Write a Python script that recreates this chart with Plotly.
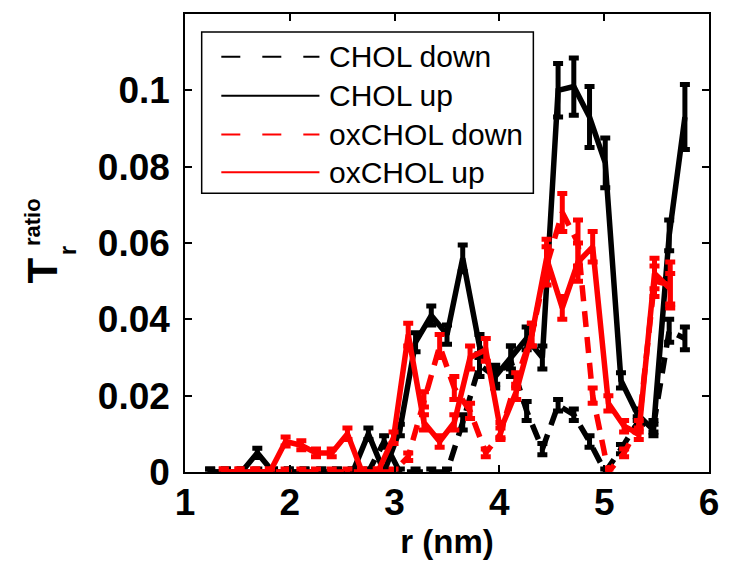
import plotly.graph_objects as go

# Radial bins (nm) for the two molecule types
r_chol = [1.24, 1.39, 1.54, 1.69, 1.84, 1.99, 2.14, 2.30, 2.45, 2.60, 2.75, 2.90, 3.05, 3.20,
          3.35, 3.50, 3.65, 3.81, 3.96, 4.11, 4.26, 4.41, 4.56, 4.71, 4.86, 5.01, 5.16, 5.32,
          5.47, 5.62, 5.77]
r_ox = [1.37, 1.52, 1.67, 1.81, 1.96, 2.11, 2.25, 2.40, 2.55, 2.69, 2.84, 2.99, 3.13, 3.28,
        3.43, 3.57, 3.72, 3.87, 4.01, 4.16, 4.31, 4.45, 4.60, 4.75, 4.89, 5.04, 5.19, 5.33,
        5.48, 5.63]

chol_down = [0, 0, 0, 0, 0, 0, 0, 0, 0, 0, 0, 0.008, 0, 0, 0, 0, 0.013, 0.028, 0.025, 0.029,
             0.016, 0.006, 0.0175, 0.015, 0.008, 0, 0.006, 0.013, 0.012, 0.037, 0.035]
chol_down_err = [0.0008] * 11 + [0.0015, 0.0008, 0.0008, 0.0008, 0.0008, 0.002, 0.003, 0.003,
                                 0.004, 0.0025, 0.0015, 0.0015, 0.0015, 0.0015, 0.0008, 0.0012,
                                 0.0015, 0.0015, 0.003, 0.003]

chol_up = [0, 0, 0, 0.005, 0, 0, 0, 0, 0, 0, 0.010, 0, 0.011, 0.034, 0.041, 0.036, 0.056,
           0.033, 0.025, 0.030, 0.035, 0.030, 0.100, 0.101, 0.093, 0.081, 0.024, 0.015, 0.011,
           0.062, 0.093]
chol_up_err = [0.0008, 0.0008, 0.0008, 0.0012, 0.0008, 0.0008, 0.0008, 0.0008, 0.0008, 0.0008,
               0.0015, 0.0008, 0.0015, 0.0025, 0.0025, 0.0025, 0.0035, 0.003, 0.002, 0.003,
               0.003, 0.003, 0.007, 0.0075, 0.008, 0.0065, 0.002, 0.0015, 0.0015, 0.004, 0.0085]

oxchol_down = [0] * 12 + [0.004, 0.019, 0.033, 0.022, 0.016, 0.005, 0.010, 0.024, 0.036, 0.054,
                          0.068, 0.060, 0.020, 0, 0.005, 0.012, 0.050, 0.049]
oxchol_down_err = [0.0008] * 12 + [0.001, 0.002, 0.003, 0.003, 0.002, 0.001, 0.0015, 0.002,
                                   0.003, 0.005, 0.005, 0.006, 0.002, 0.0008, 0.001, 0.0015,
                                   0.004, 0.006]

oxchol_up = [0, 0, 0, 0, 0.008, 0.007, 0.005, 0.005, 0.010, 0, 0, 0.009, 0.036, 0.013, 0.008,
             0.013, 0.030, 0.032, 0.011, 0.021, 0.036, 0.056, 0.043, 0.055, 0.059, 0.018, 0.012,
             0.010, 0.052, 0.048]
oxchol_up_err = [0.0008] * 4 + [0.0012, 0.0012, 0.001, 0.001, 0.0015, 0.0008, 0.0008, 0.0015,
                                0.003, 0.002, 0.0015, 0.002, 0.003, 0.003, 0.002, 0.002, 0.003,
                                0.005, 0.003, 0.005, 0.004, 0.002, 0.0015, 0.0015, 0.004, 0.004]

series_names = ["CHOL down", "CHOL up", "oxCHOL down", "oxCHOL up"]
series_x = [r_chol, r_chol, r_ox, r_ox]
series_y = [chol_down, chol_up, oxchol_down, oxchol_up]
series_err = [chol_down_err, chol_up_err, oxchol_down_err, oxchol_up_err]
series_color = ["black", "black", "#ff0000", "#ff0000"]
series_dash = ["16px,10px", "solid", "16px,10px", "solid"]

x_ticks = [1, 2, 3, 4, 5, 6]
y_ticks = [0, 0.02, 0.04, 0.06, 0.08, 0.1]
y_ticktext = ["0", "0.02", "0.04", "0.06", "0.08", "0.1"]

FONT = "Liberation Sans, Arial, Helvetica, sans-serif"

fig = go.Figure()
for name, xs, ys, es, col, dash in zip(series_names, series_x, series_y, series_err,
                                       series_color, series_dash):
    fig.add_trace(go.Scatter(
        x=xs, y=ys, mode="lines", name=name, showlegend=False,
        line=dict(color=col, width=5.5, dash=dash),
        error_y=dict(type="data", array=es, visible=True, color=col,
                     thickness=5, width=5),
    ))

# Legend box drawn in paper coordinates
L, R, T, B = 185, 719, 12, 472
W, H = R - L, B - T


def px(x):
    return (x - L) / W


def py(y):
    return (B - y) / H


shapes = [dict(type="rect", xref="paper", yref="paper",
               x0=px(202), x1=px(540), y0=py(192), y1=py(30),
               line=dict(color="black", width=1.5), fillcolor="white", layer="above")]
annotations = []
legend_rows = [55, 94, 133, 171]
legend_dash = ["19px,22px", "solid", "19px,22px", "solid"]
for name, col, dash, yy in zip(series_names, series_color, legend_dash, legend_rows):
    shapes.append(dict(type="line", xref="paper", yref="paper",
                       x0=px(222), x1=px(322), y0=py(yy), y1=py(yy),
                       line=dict(color=col, width=2, dash=dash), layer="above"))
    annotations.append(dict(xref="paper", yref="paper", x=px(330), y=py(yy),
                            text=name, showarrow=False, xanchor="left", yanchor="middle",
                            font=dict(family=FONT, size=30, color="black")))

# Y-axis label: T with stacked sub/superscript
annotations += [
    dict(xref="paper", yref="paper", x=px(40), y=py(270), text="T", textangle=-90,
         showarrow=False, xanchor="center", yanchor="middle",
         font=dict(family=FONT, size=42, color="black", weight="bold")),
    dict(xref="paper", yref="paper", x=px(29), y=py(221), text="ratio", textangle=-90,
         showarrow=False, xanchor="center", yanchor="middle",
         font=dict(family=FONT, size=22, color="black", weight="bold")),
    dict(xref="paper", yref="paper", x=px(66), y=py(250), text="r", textangle=-90,
         showarrow=False, xanchor="center", yanchor="middle",
         font=dict(family=FONT, size=24, color="black", weight="bold")),
]

axis_common = dict(showline=True, linecolor="black", linewidth=1.5, mirror="ticks",
                   ticks="inside", ticklen=7, tickwidth=1.5, tickcolor="black",
                   showgrid=False, zeroline=False,
                   tickfont=dict(family=FONT, size=37, color="black", weight="bold"))

fig.update_layout(
    width=731, height=570,
    margin=dict(l=L, r=731 - R, t=T, b=570 - B),
    paper_bgcolor="white", plot_bgcolor="white",
    xaxis=dict(range=[1, 6], tickvals=x_ticks, ticklabelstandoff=-3,
               title=dict(text="r (nm)", standoff=8,
                          font=dict(family=FONT, size=33, color="black", weight="bold")),
               **axis_common),
    yaxis=dict(range=[0, 0.12], tickvals=y_ticks, ticktext=y_ticktext, ticklabelstandoff=6,
               **axis_common),
    shapes=shapes, annotations=annotations,
)

fig.write_html("out.html")
